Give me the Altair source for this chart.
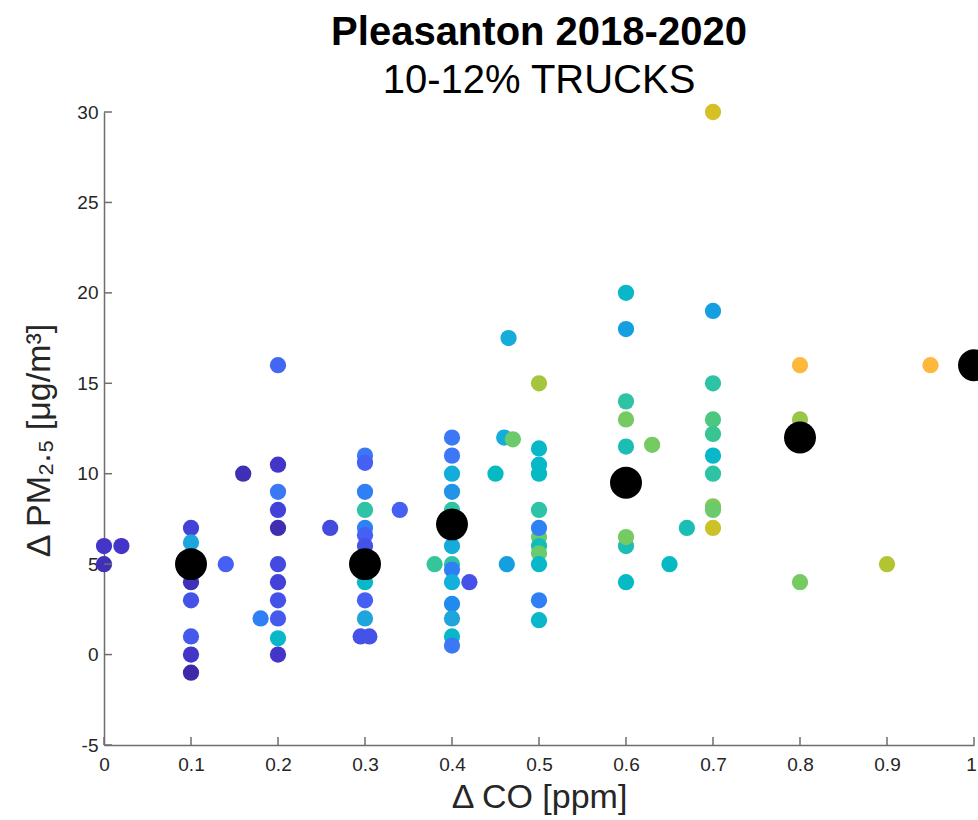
import altair as alt
import pandas as pd

# ---- data ----
x_vals = [0, 0, 0.02,
          0.1, 0.1, 0.1, 0.1, 0.1, 0.1, 0.1, 0.1, 0.14,
          0.2, 0.2, 0.2, 0.2, 0.2, 0.2, 0.2, 0.2, 0.2, 0.18, 0.2, 0.2, 0.16, 0.26,
          0.3, 0.3, 0.3, 0.3, 0.3, 0.3, 0.3, 0.3, 0.3, 0.3, 0.295, 0.305, 0.34,
          0.4, 0.4, 0.4, 0.4, 0.4, 0.4, 0.4, 0.4, 0.4, 0.4, 0.4, 0.4, 0.4, 0.38, 0.42, 0.45,
          0.465, 0.5, 0.46, 0.47, 0.5, 0.5, 0.5, 0.5, 0.5, 0.5, 0.5, 0.5, 0.5, 0.463, 0.5, 0.5,
          0.6, 0.6, 0.6, 0.6, 0.6, 0.63, 0.6, 0.6, 0.6, 0.65, 0.67,
          0.7, 0.7, 0.7, 0.7, 0.7, 0.7, 0.7, 0.7, 0.7, 0.7,
          0.8, 0.8, 0.8, 0.9, 0.95]
y_vals = [6, 5, 6,
          7, 6.2, 5, 4, 3, 1, 0, -1, 5,
          16, 10.5, 9, 8, 7, 5, 4, 3, 2, 2, 0.9, 0, 10, 7,
          11, 10.6, 9, 8, 7, 6.6, 6, 4, 3, 2, 1, 1, 8,
          12, 11, 10, 9, 8, 6, 5, 4.7, 4, 2.8, 2, 1, 0.5, 5, 4, 10,
          17.5, 15, 12, 11.9, 11.4, 10.5, 10, 8, 6.5, 7, 6, 5.6, 5, 5, 3, 1.9,
          20, 18, 14, 13, 11.5, 11.6, 6, 6.5, 4, 5, 7,
          30, 19, 15, 13, 12.2, 11, 10, 8.2, 8, 7,
          16, 13, 4, 5, 16]
c_vals = [0.08, 0.05, 0.08,
          0.12, 0.42, 0.12, 0.05, 0.16, 0.18, 0.08, 0.0, 0.2,
          0.22, 0.08, 0.27, 0.12, 0.03, 0.14, 0.12, 0.16, 0.18, 0.3, 0.5, 0.08, 0.04, 0.14,
          0.27, 0.2, 0.3, 0.6, 0.3, 0.2, 0.16, 0.5, 0.2, 0.42, 0.16, 0.16, 0.2,
          0.27, 0.27, 0.45, 0.36, 0.6, 0.45, 0.6, 0.3, 0.47, 0.33, 0.42, 0.5, 0.27, 0.62, 0.16, 0.52,
          0.45, 0.8, 0.45, 0.7, 0.5, 0.5, 0.52, 0.6, 0.7, 0.3, 0.55, 0.7, 0.5, 0.4, 0.3, 0.5,
          0.5, 0.4, 0.6, 0.72, 0.57, 0.72, 0.57, 0.72, 0.52, 0.52, 0.57,
          0.9, 0.4, 0.6, 0.66, 0.63, 0.5, 0.6, 0.74, 0.7, 0.88,
          1.0, 0.78, 0.72, 0.82, 1.0]

mean_x = [0.1, 0.3, 0.4, 0.6, 0.8, 1.0]
mean_y = [5, 5, 7.2, 9.5, 12, 16]

x_ticks = [0, 0.1, 0.2, 0.3, 0.4, 0.5, 0.6, 0.7, 0.8, 0.9, 1]
y_ticks = [-5, 0, 5, 10, 15, 20, 25, 30]

color_stops = [0.0, 0.05, 0.08, 0.12, 0.16, 0.2, 0.27, 0.3, 0.36, 0.42,
               0.47, 0.5, 0.57, 0.6, 0.66, 0.7, 0.78, 0.82, 0.9, 1.0]
color_hex = ["#3D2AA8", "#4030B8", "#4335C8", "#4342D8", "#4552E8", "#4560F2",
             "#3C78F5", "#2F80F5", "#2393E8", "#1EA5DC", "#12B0DA", "#08B8C8",
             "#1CBDB5", "#2EC3A5", "#4CC77F", "#6BCB6C", "#98C646", "#B3C432",
             "#D4C126", "#FEB93C"]

# ---- chart ----
W, H = 870, 633
FONT = "Liberation Sans"
AX = "#6e6e6e"
TXT = "#262626"
X_TITLE = "Δ CO [ppm]"
Y_TITLE = "Δ PM₂.₅ [μg/m³]"

pts = pd.DataFrame({"x": x_vals, "y": y_vals, "c": c_vals})
means = pd.DataFrame({"x": mean_x, "y": mean_y})

xs = alt.Scale(domain=[0, 1], nice=False, zero=False)
ys = alt.Scale(domain=[-5, 30], nice=False, zero=False)

x_axis = alt.Axis(
    values=x_ticks, format=".1~f", grid=False, labelFlush=False,
    labelOffset={"condition": {"test": "datum.value == 1", "value": -3}, "value": 0},
    tickSize=0, labelPadding=10, labelFontSize=19, labelFont=FONT, labelColor=TXT,
    titleFont=FONT, titleFontSize=34, titleFontWeight="normal", titleColor=TXT,
    titlePadding=6, domainColor=AX, domainWidth=1.5)
y_axis = alt.Axis(
    values=y_ticks, labelExpr="'' + datum.value", grid=False, labelFlush=False,
    tickSize=0, labelPadding=6, labelFontSize=19, labelFont=FONT, labelColor=TXT,
    titleFont=FONT, titleFontSize=34, titleFontWeight="normal", titleColor=TXT,
    titlePadding=20, titleY=328, domainColor=AX, domainWidth=1.5)

scatter = alt.Chart(pts).mark_circle(size=265, opacity=1).encode(
    x=alt.X("x:Q", scale=xs, axis=x_axis, title=X_TITLE),
    y=alt.Y("y:Q", scale=ys, axis=y_axis, title=Y_TITLE),
    color=alt.Color("c:Q", scale=alt.Scale(domain=color_stops, range=color_hex), legend=None),
)

mean_layer = alt.Chart(means).mark_circle(size=1020, opacity=1, color="black").encode(
    x=alt.X("x:Q", scale=xs, axis=x_axis, title=X_TITLE),
    y=alt.Y("y:Q", scale=ys, axis=y_axis, title=Y_TITLE),
)

xt = alt.Chart(pd.DataFrame({"t": x_ticks})).mark_rule(color=AX, strokeWidth=1.5).encode(
    x=alt.X("t:Q", scale=xs, axis=x_axis, title=X_TITLE), y=alt.value(H), y2=alt.value(H - 8))
yt = alt.Chart(pd.DataFrame({"t": y_ticks})).mark_rule(color=AX, strokeWidth=1.5).encode(
    y=alt.Y("t:Q", scale=ys, axis=y_axis, title=Y_TITLE), x=alt.value(0), x2=alt.value(8))

chart = alt.layer(scatter, xt, yt, mean_layer).properties(
    width=W, height=H,
    autosize=alt.AutoSizeParams(type="none"),
    padding={"left": 104, "top": 112, "right": 4, "bottom": 75},
    title=alt.TitleParams(
        text="Pleasanton 2018-2020", subtitle="10-12% TRUCKS",
        font=FONT, fontSize=40, fontWeight="bold", color="black",
        subtitleFont=FONT, subtitleFontSize=40, subtitleColor="black",
        anchor="middle", offset=2, subtitlePadding=8),
).configure(background="white").configure_view(stroke=None)

chart.save("out.html", embed_options={"renderer": "svg", "actions": False})
